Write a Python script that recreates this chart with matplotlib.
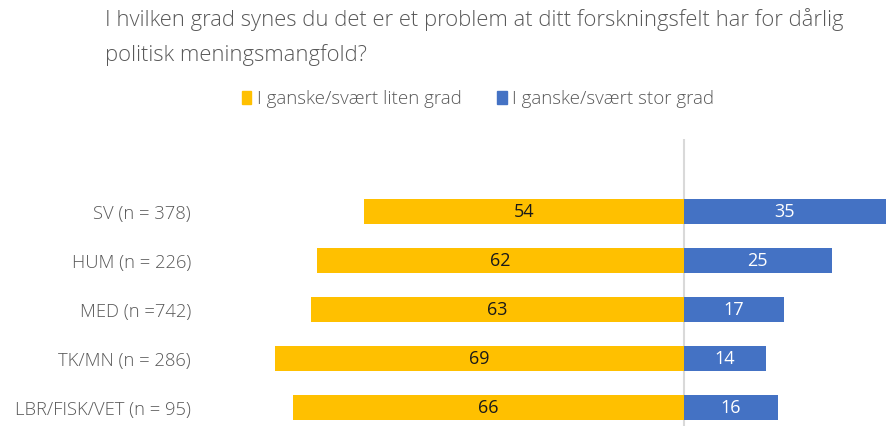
import matplotlib.pyplot as plt
from matplotlib.patches import Patch

categories = ["SV (n = 378)", "HUM (n = 226)", "MED (n =742)", "TK/MN (n = 286)", "LBR/FISK/VET (n = 95)"]
small_degree = [54, 62, 63, 69, 66]
large_degree = [35, 25, 17, 14, 16]
legend_labels = ["I ganske/svært liten grad", "I ganske/svært stor grad"]
title = "I hvilken grad synes du det er et problem at ditt forskningsfelt har for dårlig\npolitisk meningsmangfold?"

plt.rcParams["font.family"] = ["Open Sans", "DejaVu Sans"]
plt.rcParams["font.weight"] = "light"
yellow = "#FFC000"
blue = "#4472C4"
grey = "#595959"

fig = plt.figure(figsize=(8.86, 4.26), dpi=100)
ax = fig.add_axes([255 / 886, 0, 631 / 886, 287 / 426])

y = list(range(len(categories)))
neg = [-v for v in small_degree]
b1 = ax.barh(y, neg, height=0.51, color=yellow)
b2 = ax.barh(y, large_degree, height=0.51, color=blue)
ax.bar_label(b1, labels=[str(v) for v in small_degree], label_type="center",
             color="#1a1a1a", fontsize=13, fontweight="normal")
ax.bar_label(b2, labels=[str(v) for v in large_degree], label_type="center",
             color="white", fontsize=13, fontweight="normal")

ax.axvline(0, color="#D9D9D9", lw=1.5, zorder=0)
ax.set_xlim(-72.4, 34.2)
ax.set_ylim(4.37, -1.49)
ax.set_yticks(y)
ax.set_yticklabels(categories, color=grey, fontsize=13.2)
ax.tick_params(axis="y", length=0, pad=46)
ax.set_xticks([])
for s in ax.spines.values():
    s.set_visible(False)

fig.text(105 / 886, 1 - 37 / 426, title, color=grey, fontsize=15.8,
         ha="left", va="center", linespacing=1.72)

handles = [Patch(color=yellow), Patch(color=blue)]
fig.legend(handles, legend_labels, loc="center", bbox_to_anchor=(478 / 886, 1 - 99 / 426),
           ncol=2, frameon=False, fontsize=13.5, labelcolor=grey,
           handlelength=0.5, handleheight=0.7, handletextpad=0.3, columnspacing=1.9)

plt.savefig("out.png", dpi=100)
